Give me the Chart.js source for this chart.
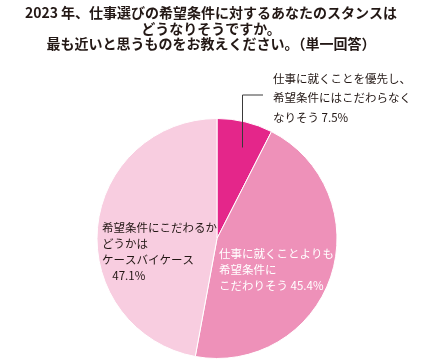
<!DOCTYPE html>
<html>
<head>
<meta charset="utf-8">
<script src="https://cdn.jsdelivr.net/npm/chart.js@4/dist/chart.umd.min.js"></script>
<style>
  html, body { margin: 0; padding: 0; background: #fff; }
  #wrap { width: 423px; height: 361px; position: relative; }
</style>
</head>
<body>
<div id="wrap"><canvas id="pie"></canvas></div>
<script>
// chart data
const titleLines = [
    '2023 年、仕事選びの希望条件に対するあなたのスタンスは',
    'どうなりそうですか。',
    '最も近いと思うものをお教えください。（単一回答）'
];
const categories = [
    ['仕事に就くことを優先し、', '希望条件にはこだわらなく', 'なりそう 7.5%'],
    ['仕事に就くことよりも', '希望条件に', 'こだわりそう 45.4%'],
    ['希望条件にこだわるか', 'どうかは', 'ケースバイケース', '    47.1%']
];
const values = [7.5, 45.4, 47.1];
const colors = ['#e4268a', '#ee91b9', '#f8cde0'];

const FONT = '"Noto Sans CJK JP", "Noto Sans", sans-serif';

// title + slice labels, drawn relative to the pie centre
const labelPlugin = {
    id: 'labelPlugin',
    afterDraw(chart) {
        const ctx = chart.ctx;
        const arc = chart.getDatasetMeta(0).data[0];
        const cx = arc.x, cy = arc.y;

        ctx.save();
        ctx.fillStyle = '#231815';
        ctx.font = 'bold 14px ' + FONT;
        ctx.textAlign = 'center';
        ctx.textBaseline = 'middle';
        titleLines.forEach((line, i) => ctx.fillText(line, chart.width / 2 - 0.5, 13 + i * 15.5));

        ctx.font = '11.5px ' + FONT;
        ctx.textAlign = 'left';

        // small slice label outside, with leader line
        ctx.strokeStyle = '#3a3a3a';
        ctx.lineWidth = 1;
        ctx.beginPath();
        ctx.moveTo(cx + 46, cy - 143.5);
        ctx.lineTo(cx + 25.5, cy - 143.5);
        ctx.lineTo(cx + 25.5, cy - 91);
        ctx.stroke();
        categories[0].forEach((line, i) => ctx.fillText(line, cx + 56, cy - 160 + i * 19.5));

        ctx.fillStyle = '#ffffff';
        categories[1].forEach((line, i) => ctx.fillText(line, cx + 2, cy + 15 + i * 16));

        ctx.fillStyle = '#231815';
        categories[2].forEach((line, i) => ctx.fillText(line, cx - 115, cy - 11 + i * 16));
        ctx.restore();
    }
};

new Chart(document.getElementById('pie'), {
    type: 'pie',
    data: {
        labels: categories.map(c => c.join('')),
        datasets: [{
            data: values,
            backgroundColor: colors,
            borderColor: '#ffffff',
            borderWidth: 1
        }]
    },
    options: {
        responsive: true,
        maintainAspectRatio: false,
        animation: false,
        layout: { padding: { top: 118, bottom: 2, left: 20, right: 9 } },
        plugins: {
            legend: { display: false },
            tooltip: { enabled: false }
        }
    },
    plugins: [labelPlugin]
});
</script>
</body>
</html>
